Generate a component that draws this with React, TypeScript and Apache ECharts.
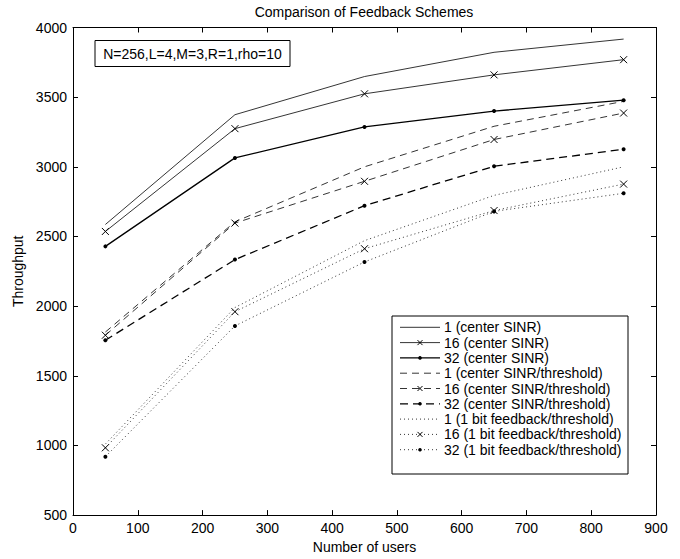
import React, { useEffect, useRef } from "react";
import * as echarts from "echarts";

const users = [50, 250, 450, 650, 850];
const c1 = [2586, 3374, 3648, 3822, 3917];
const c16 = [2536, 3274, 3524, 3660, 3769];
const c32 = [2429, 3064, 3286, 3400, 3478];
const t1 = [1814, 2605, 3000, 3291, 3470];
const t16 = [1791, 2596, 2896, 3196, 3386];
const t32 = [1755, 2334, 2721, 3004, 3126];
const b1 = [1010, 1990, 2470, 2795, 3000];
const b16 = [983, 1960, 2412, 2686, 2876];
const b32 = [919, 1858, 2317, 2680, 2810];

const names = [
  "1 (center SINR)",
  "16 (center SINR)",
  "32 (center SINR)",
  "1 (center SINR/threshold)",
  "16 (center SINR/threshold)",
  "32 (center SINR/threshold)",
  "1 (1 bit feedback/threshold)",
  "16 (1 bit feedback/threshold)",
  "32 (1 bit feedback/threshold)",
];

const FONT = "Liberation Sans, Arial, Helvetica, sans-serif";
const CROSS = "path://M0,0L10,10M10,0L0,10";

function styleFor(i: number) {
  const kind = i % 3; // 0 none, 1 cross, 2 dot
  const grp = Math.floor(i / 3); // 0 solid,1 dashed,2 dotted
  const thick = kind === 2 && grp < 2;
  let dash: any = "solid";
  if (grp === 1) dash = thick ? [8, 5] : [7, 5];
  if (grp === 2) dash = [1, 3];
  return { kind, grp, thick, dash, width: thick ? 1.3 : 0.8 };
}

export default function App() {
  const ref = useRef<HTMLDivElement>(null);
  useEffect(() => {
    if (!ref.current) return;
    const chart = echarts.init(ref.current, null, { renderer: "svg" });
    const data = [c1, c16, c32, t1, t16, t32, b1, b16, b32];
    const series = data.map((vals, i) => {
      const s = styleFor(i);
      return {
        name: names[i],
        type: "line",
        data: users.map((u, j) => [u, vals[j]]),
        symbol: s.kind === 0 ? "none" : s.kind === 1 ? CROSS : "circle",
        symbolSize: s.kind === 1 ? 7 : 4,
        showSymbol: s.kind !== 0,
        lineStyle: { color: "#000", width: s.width, type: s.dash },
        itemStyle: {
          color: "#000",
          borderColor: "#000",
          borderWidth: s.kind === 1 ? 1 : 0,
        },
        emphasis: { disabled: true },
        z: 3,
      };
    });

    // manual legend (MATLAB style)
    const legX = 392, legY = 316, legW = 236, legH = 158;
    const row0 = 327.3, rowStep = 15.3;
    const legend: any[] = [
      {
        type: "rect",
        shape: { x: legX, y: legY, width: legW, height: legH },
        style: { fill: "#fff", stroke: "#000", lineWidth: 1 },
        z: 10,
      },
    ];
    names.forEach((nm, i) => {
      const s = styleFor(i);
      const cy = row0 + i * rowStep;
      legend.push({
        type: "line",
        shape: { x1: 400, y1: cy, x2: 440, y2: cy },
        style: {
          stroke: "#000",
          lineWidth: s.width,
          lineDash: s.dash === "solid" ? null : s.dash,
        },
        z: 11,
      });
      if (s.kind === 1) {
        legend.push({
          type: "line",
          shape: { x1: 417.5, y1: cy - 2.5, x2: 422.5, y2: cy + 2.5 },
          style: { stroke: "#000", lineWidth: 1 },
          z: 12,
        });
        legend.push({
          type: "line",
          shape: { x1: 417.5, y1: cy + 2.5, x2: 422.5, y2: cy - 2.5 },
          style: { stroke: "#000", lineWidth: 1 },
          z: 12,
        });
      } else if (s.kind === 2) {
        legend.push({
          type: "circle",
          shape: { cx: 420, cy, r: 1.8 },
          style: { fill: "#000" },
          z: 12,
        });
      }
      legend.push({
        type: "text",
        x: 444,
        y: cy,
        style: {
          text: nm,
          fill: "#000",
          font: `14px ${FONT}`,
          verticalAlign: "middle",
        },
        z: 12,
      });
    });

    const axisCommon = {
      axisLine: { show: true, onZero: false, lineStyle: { color: "#000", width: 1 } },
      axisTick: { show: true, inside: true, length: 5, lineStyle: { color: "#000" } },
      splitLine: { show: false },
    };
    const plain = (v: number) => String(v);
    chart.setOption({
      animation: false,
      backgroundColor: "#fff",
      textStyle: { fontFamily: FONT },
      grid: { left: 73, right: 24, top: 27.5, bottom: 41, containLabel: false },
      xAxis: [
        {
          type: "value",
          min: 0,
          max: 900,
          interval: 100,
          position: "bottom",
          ...axisCommon,
          axisLabel: { color: "#000", fontSize: 14, fontFamily: FONT, margin: 6, formatter: plain },
          name: "Number of users",
          nameLocation: "middle",
          nameGap: 22,
          nameTextStyle: { color: "#000", fontSize: 14, fontFamily: FONT },
        },
        {
          type: "value",
          min: 0,
          max: 900,
          interval: 100,
          position: "top",
          ...axisCommon,
          axisLabel: { show: false },
        },
      ],
      yAxis: [
        {
          type: "value",
          min: 500,
          max: 4000,
          interval: 500,
          position: "left",
          ...axisCommon,
          axisLabel: { color: "#000", fontSize: 14, fontFamily: FONT, margin: 6, formatter: plain },
          name: "Throughput",
          nameLocation: "middle",
          nameGap: 37,
          nameTextStyle: { color: "#000", fontSize: 14, fontFamily: FONT },
        },
        {
          type: "value",
          min: 500,
          max: 4000,
          interval: 500,
          position: "right",
          ...axisCommon,
          axisLabel: { show: false },
        },
      ],
      graphic: [
        {
          type: "text",
          x: 364,
          y: 12,
          style: {
            text: "Comparison of Feedback Schemes",
            fill: "#000",
            font: `14px ${FONT}`,
            align: "center",
            verticalAlign: "middle",
          },
        },
        {
          type: "rect",
          shape: { x: 95, y: 40.5, width: 195, height: 26 },
          style: { fill: "#fff", stroke: "#000", lineWidth: 1 },
          z: 10,
        },
        {
          type: "text",
          x: 192.5,
          y: 53.5,
          style: {
            text: "N=256,L=4,M=3,R=1,rho=10",
            fill: "#000",
            font: `14px ${FONT}`,
            align: "center",
            verticalAlign: "middle",
          },
          z: 11,
        },
        ...legend,
      ],
      series,
    });
    return () => chart.dispose();
  }, []);
  return (
    <div
      ref={ref}
      style={{ position: "absolute", left: 0, top: 0, width: 680, height: 559 }}
    />
  );
}
